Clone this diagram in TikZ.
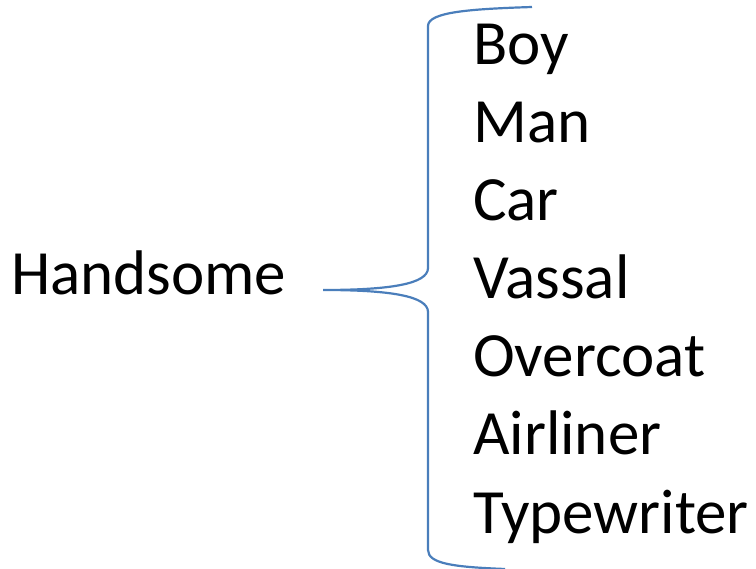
\documentclass[tikz,border=0pt]{standalone}
\usepackage{fontspec}
\setmainfont{Carlito}
\definecolor{bracecol}{HTML}{4A7EBB}
\begin{document}
\begin{tikzpicture}[x=1pt,y=-1pt,
  word/.style={anchor=base west,inner sep=0pt,font=\fontsize{63}{63}\selectfont},
  bracel/.style={draw=bracecol,line width=2.2pt}]
\useasboundingbox (0,0) rectangle (756,569);
\node[word] (hand) at (11,295) {Handsome};
\node[word] (w1) at (473,65) {Boy};
\node[word] (w2) at (473,143) {Man};
\node[word] (w3) at (473,221) {Car};
\node[word] (w4) at (473,299) {Vassal};
\node[word] (w5) at (473,377) {Overcoat};
\node[word] (w6) at (473,455) {Airliner};
\node[word] (w7) at (473,533) {Typewriter};
\coordinate (tip) at (323,290);
\coordinate (top) at (532,7);
\coordinate (bot) at (505,569);
\draw[bracel] (top) .. controls (470,9) and (428,12) .. (428,26) -- (428,268)
  .. controls (428,284) and (390,290) .. (tip)
  .. controls (390,290) and (428,296) .. (428,312) -- (428,550)
  .. controls (428,564) and (455,567) .. (bot);
\end{tikzpicture}
\end{document}
